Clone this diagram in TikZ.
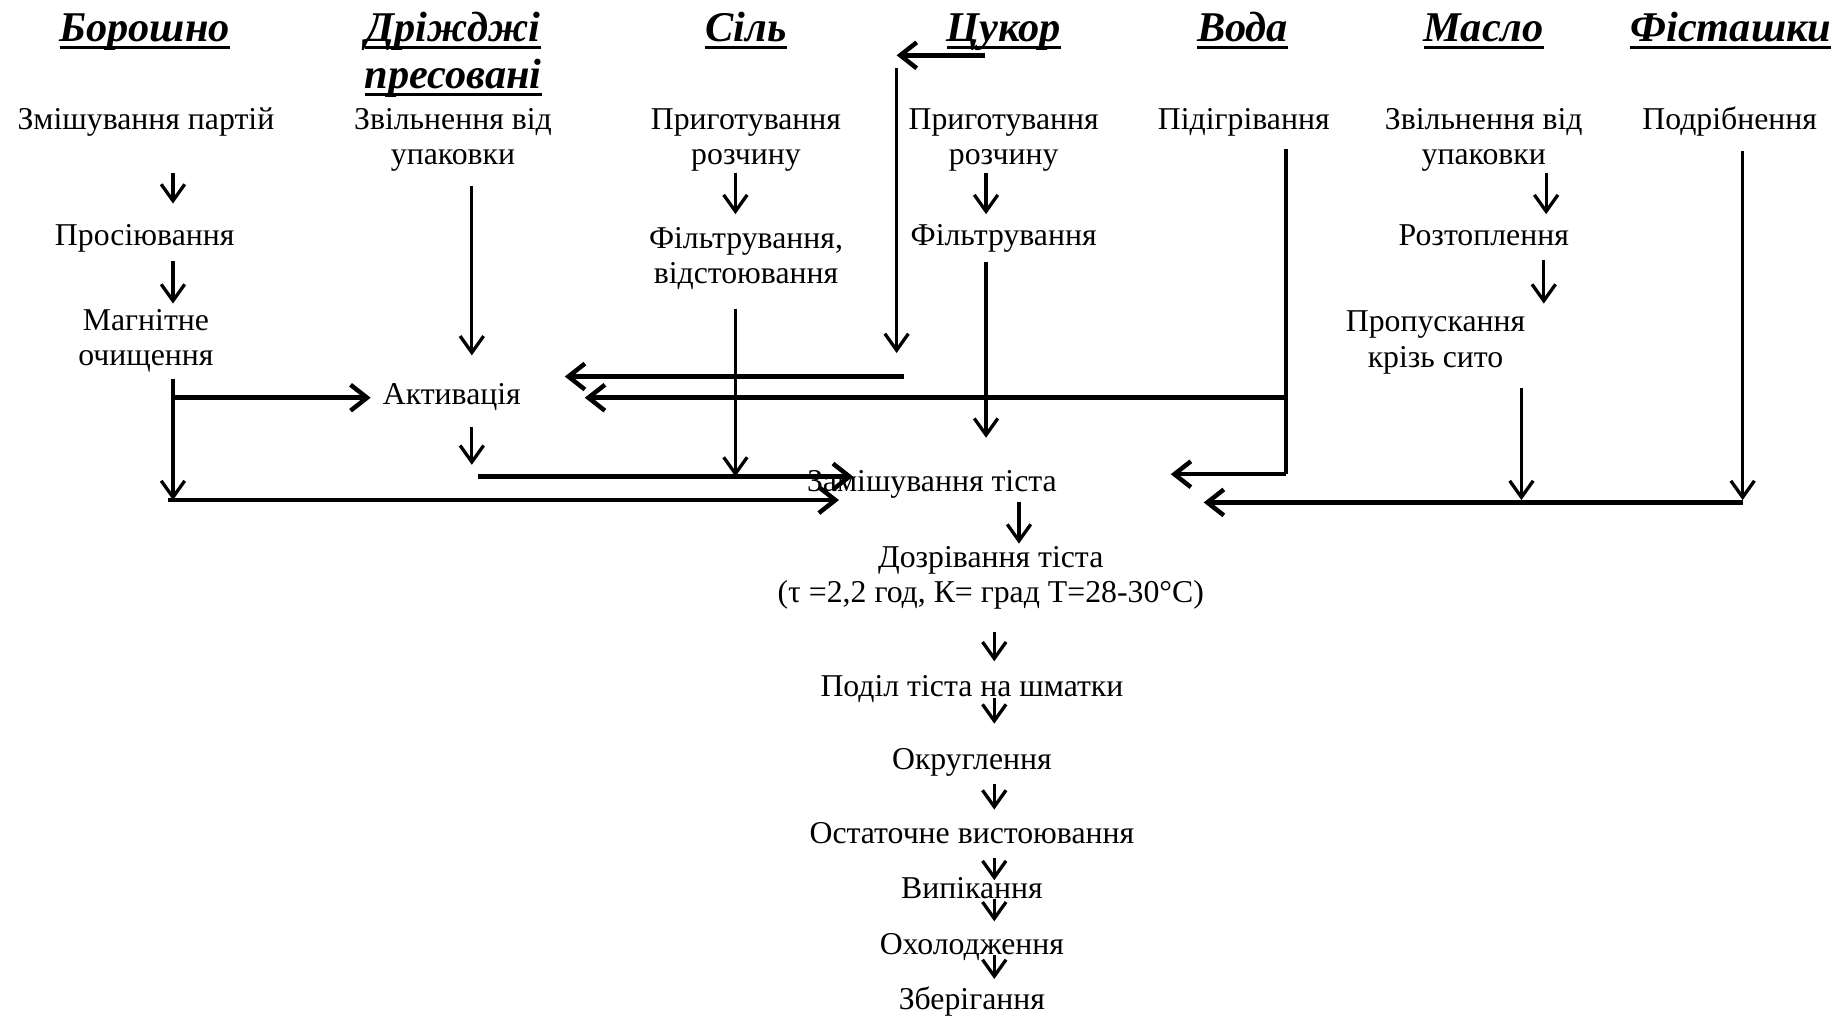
\documentclass[tikz,border=0pt]{standalone}
\usepackage{fontspec}
\setmainfont{Liberation Serif}
\usetikzlibrary{arrows.meta}
\newcommand\ulword[1]{\setbox0\hbox{#1}\rlap{\rule[-0.19em]{\wd0}{0.085em}}\box0}
\begin{document}
\begin{tikzpicture}[x=1pt,y=-1pt,
  body/.style={font=\fontsize{27}{30}\selectfont, inner sep=0pt, align=center, anchor=base},
  hdr/.style={font=\fontsize{36}{40}\selectfont\bfseries\itshape, inner sep=0pt, align=center, anchor=base},
  arr/.style={line width=2.8pt, -{Straight Barb[length=14pt,width=20pt]}},
  harr/.style={line width=3.8pt, -{Straight Barb[length=14pt,width=22pt]}},
  vline/.style={line width=2.8pt},
  hline/.style={line width=3.8pt}]
\useasboundingbox (0,0) rectangle (1568,863);
% headers
\node[hdr] (hB) at (123,35) {\ulword{Борошно}};
\node[hdr] (hD) at (385,75) {\ulword{Дріжджі}\\\ulword{пресовані}};
\node[hdr] (hS) at (634,35) {\ulword{Сіль}};
\node[hdr] (hC) at (853,35) {\ulword{Цукор}};
\node[hdr] (hV) at (1056,35) {\ulword{Вода}};
\node[hdr] (hM) at (1261,35) {\ulword{Масло}};
\node[hdr] (hF) at (1471,35) {\ulword{Фісташки}};
% steps
\node[body] (z1) at (124,110) {Змішування партій};
\node[body] (d1) at (385,140) {Звільнення від\\упаковки};
\node[body] (s1) at (634,140) {Приготування\\розчину};
\node[body] (c1) at (853,140) {Приготування\\розчину};
\node[body] (v1) at (1057,110) {Підігрівання};
\node[body] (m1) at (1261,140) {Звільнення від\\упаковки};
\node[body] (f1) at (1470,110) {Подрібнення};
\node[body] (p1) at (123,209) {Просіювання};
\node[body] (s2) at (634,241) {Фільтрування,\\відстоювання};
\node[body] (c2) at (853,209) {Фільтрування};
\node[body] (m2) at (1261,209) {Розтоплення};
\node[body] (z3) at (124,311) {Магнітне\\очищення};
\node[body] (m3) at (1220,312) {Пропускання\\крізь сито};
\node[body] (act) at (384,344) {Активація};
\node[body] (mix) at (792,418) {Замішування тіста};
\node[body] (rip) at (842,512) {Дозрівання тіста\\(τ =2,2 год, К= град Т=28-30°С)};
\node[body] (div) at (826,592) {Поділ тіста на шматки};
\node[body] (rnd) at (826,654) {Округлення};
\node[body] (prf) at (826,717) {Остаточне вистоювання};
\node[body] (bak) at (826,764) {Випікання};
\node[body] (col) at (826,811) {Охолодження};
\node[body] (sto) at (826,858) {Зберігання};
% connector points
\coordinate (z1o) at (147,147); \coordinate (p1i) at (147,173);
\coordinate (p1o) at (147,222); \coordinate (z3i) at (147,258);
\coordinate (z3o) at (147,322); \coordinate (z3b) at (147,425);
\coordinate (z3j) at (147,338); \coordinate (acti) at (315,338);
\coordinate (bl) at (143,425); \coordinate (mixa) at (713,425);
\coordinate (d1o) at (401,158); \coordinate (d1i) at (401,302);
\coordinate (acto) at (401,363); \coordinate (actb) at (401,395);
\coordinate (al) at (406,405); \coordinate (mixb) at (725,405);
\coordinate (s1o) at (625,147); \coordinate (s2i) at (625,182);
\coordinate (s2o) at (625,263); \coordinate (s2b) at (625,405);
\coordinate (hCo) at (837,47); \coordinate (cL) at (762,47);
\coordinate (cT) at (762,58); \coordinate (cB) at (762,300);
\coordinate (cR) at (768,320); \coordinate (actc) at (480,320);
\coordinate (c1o) at (838,147); \coordinate (c2i) at (838,182);
\coordinate (c2o) at (838,223); \coordinate (mixc) at (838,372);
\coordinate (v1o) at (1093,127); \coordinate (vJ) at (1093,338);
\coordinate (vB) at (1093,403); \coordinate (mixd) at (995,403);
\coordinate (actv) at (497,338);
\coordinate (m1o) at (1314,147); \coordinate (m2i) at (1314,182);
\coordinate (m2o) at (1312,221); \coordinate (m3i) at (1312,258);
\coordinate (m3o) at (1293,330); \coordinate (m3b) at (1293,425);
\coordinate (fR) at (1481,427); \coordinate (mixe) at (1023,427);
\coordinate (f1o) at (1481,128); \coordinate (f1b) at (1481,425);
\coordinate (mixo) at (866,427); \coordinate (ripi) at (866,462);
\coordinate (ripo) at (845,537); \coordinate (divi) at (845,562);
\coordinate (divo) at (845,593); \coordinate (rndi) at (845,615);
\coordinate (rndo) at (845,666); \coordinate (prfi) at (845,688);
\coordinate (prfo) at (845,729); \coordinate (baki) at (845,748);
\coordinate (bako) at (845,764); \coordinate (coli) at (845,783);
\coordinate (colo) at (845,812); \coordinate (stoi) at (845,832);
% connectors
\draw[arr] (z1o) -- (p1i);
\draw[arr] (p1o) -- (z3i);
\draw[arr] (z3o) -- (z3b);
\draw[harr] (z3j) -- (acti);
\draw[harr] (bl) -- (mixa);
\draw[arr] (d1o) -- (d1i);
\draw[arr] (acto) -- (actb);
\draw[harr] (al) -- (mixb);
\draw[arr] (s1o) -- (s2i);
\draw[arr] (s2o) -- (s2b);
\draw[harr] (hCo) -- (cL);
\draw[arr] (cT) -- (cB);
\draw[harr] (cR) -- (actc);
\draw[arr] (c1o) -- (c2i);
\draw[arr] (c2o) -- (mixc);
\draw[vline] (v1o) -- (vB);
\draw[harr] (vJ) -- (actv);
\draw[harr] (vB) -- (mixd);
\draw[arr] (m1o) -- (m2i);
\draw[arr] (m2o) -- (m3i);
\draw[arr] (m3o) -- (m3b);
\draw[harr] (fR) -- (mixe);
\draw[arr] (f1o) -- (f1b);
\draw[arr] (mixo) -- (ripi);
\draw[arr] (ripo) -- (divi);
\draw[arr] (divo) -- (rndi);
\draw[arr] (rndo) -- (prfi);
\draw[arr] (prfo) -- (baki);
\draw[arr] (bako) -- (coli);
\draw[arr] (colo) -- (stoi);
\end{tikzpicture}
\end{document}
